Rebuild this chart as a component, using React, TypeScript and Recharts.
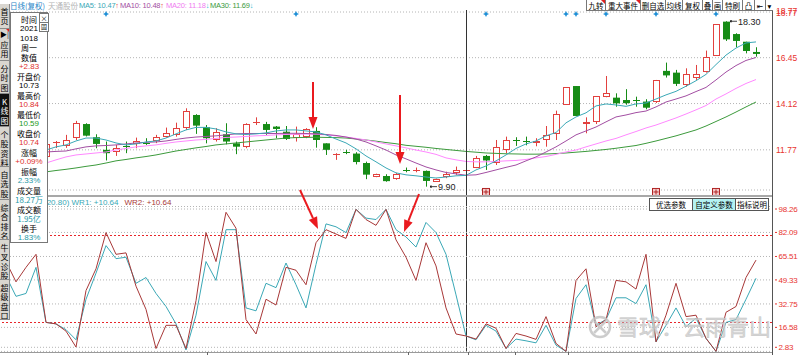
import React from "react";
import {
  ComposedChart,
  Bar,
  Line,
  XAxis,
  YAxis,
  CartesianGrid,
  ReferenceLine,
  ReferenceDot,
} from "recharts";

// 76 daily sessions
const opens = [
  11.45, 11.55, 11.5, 11.75, 11.41, 12.12, 11.98, 12.36, 13.08, 12.41,
  11.77, 11.68, 11.95, 12.05, 12.12, 12.22, 12.44, 12.53, 12.87, 13.54,
  12.92, 12.27, 12.56, 12.1, 11.93, 13.13, 13.08, 12.95, 12.69, 12.36,
  12.44, 12.73, 12.1, 11.52, 11.66, 11.58, 11.1, 10.41, 10.44, 10.29,
  10.77, 10.73, 10.7, 10.16, 10.41, 10.58, 10.73, 10.84, 11.46, 11.09,
  11.77, 12.25, 12.24, 12.15, 12.27, 12.58, 14.05, 15.01, 13.08, 13.2,
  14.44, 14.42, 14.3, 14.3, 14.22, 14.22, 15.78, 15.69, 15.06, 15.4,
  15.74, 16.55, 18.28, 17.65, 17.26, 16.74,
];
const highs = [
  11.62, 11.7, 11.66, 11.82, 12.1, 12.22, 12.53, 13.24, 13.12, 12.56,
  12.19, 12.02, 12.19, 12.39, 12.36, 12.53, 12.9, 13.15, 13.88, 13.58,
  13.03, 12.87, 13.12, 12.19, 13.12, 13.42, 13.19, 12.98, 12.98, 12.95,
  12.87, 12.92, 12.1, 11.6, 11.77, 11.65, 11.17, 10.56, 10.53, 10.6,
  10.87, 10.87, 10.72, 10.31, 10.66, 10.92, 10.84, 11.46, 11.51, 12.27,
  12.44, 12.41, 12.44, 12.36, 12.98, 13.76, 14.95, 15.01, 13.42, 14.5,
  15.52, 14.64, 14.85, 14.47, 14.34, 15.32, 16.2, 15.83, 15.91, 16.08,
  16.81, 18.16, 18.3, 17.69, 17.26, 16.98,
];
const lows = [
  11.38, 11.4, 11.42, 11.48, 11.38, 11.86, 11.87, 12.27, 12.45, 11.85,
  11.23, 11.46, 11.6, 11.85, 12.02, 12.11, 12.39, 12.44, 12.78, 12.58,
  12.1, 12.19, 12.05, 11.55, 11.85, 13.03, 12.53, 12.36, 12.27, 12.19,
  12.36, 11.88, 11.51, 11.26, 11.55, 11.03, 10.28, 10.38, 10.15, 10.25,
  10.63, 10.63, 9.9, 10.14, 10.33, 10.5, 10.59, 10.84, 10.75, 11.0,
  11.6, 11.97, 12.0, 11.95, 11.93, 12.27, 14.05, 13.49, 12.61, 13.08,
  14.44, 13.96, 14.06, 13.96, 13.83, 14.15, 15.44, 15.01, 14.98, 15.32,
  15.69, 16.55, 17.3, 16.98, 16.67, 16.5,
];
const closes = [
  11.55, 11.48, 11.6, 11.55, 12.07, 12.15, 12.27, 13.12, 12.49, 12.07,
  11.6, 11.85, 11.93, 12.24, 12.1, 12.41, 12.64, 12.9, 13.74, 13.0,
  12.36, 12.69, 12.19, 11.93, 13.08, 13.17, 12.78, 12.83, 12.32, 12.56,
  12.82, 12.27, 11.77, 11.57, 11.63, 11.15, 10.51, 10.53, 10.18, 10.56,
  10.75, 10.76, 10.19, 10.29, 10.53, 10.75, 10.74, 11.34, 11.23, 11.91,
  12.25, 12.19, 12.22, 12.22, 12.52, 13.59, 14.95, 13.49, 13.19, 14.5,
  14.67, 14.13, 14.14, 14.26, 13.91, 15.32, 15.55, 15.12, 15.61, 15.61,
  16.5, 18.16, 17.38, 17.3, 16.79, 16.64,
];

const ma5 = [
  11.51, 11.51, 11.56, 11.61, 11.76, 11.92, 12.02, 12.22, 12.37, 12.37,
  12.27, 12.12, 12.02, 12.07, 12.17, 12.22, 12.37, 12.58, 12.78, 12.91,
  12.91, 12.83, 12.68, 12.58, 12.55, 12.58, 12.63, 12.73, 12.78, 12.78,
  12.73, 12.68, 12.53, 12.32, 12.12, 11.82, 11.46, 11.16, 10.85, 10.6,
  10.5, 10.45, 10.39, 10.34, 10.39, 10.45, 10.47, 10.75, 10.95, 11.21,
  11.51, 11.84, 12.07, 12.22, 12.48, 12.65, 13.14, 13.44, 13.65, 14.0,
  14.1, 14.05, 13.98, 14.1, 14.15, 14.35, 14.56, 14.74, 15.0, 15.28,
  15.6, 16.1, 16.58, 16.94, 17.2, 17.25,
];
const ma10 = [
  11.61, 11.61, 11.61, 11.64, 11.66, 11.69, 11.71, 11.82, 11.92, 11.97,
  11.99, 12.02, 12.07, 12.12, 12.15, 12.17, 12.22, 12.3, 12.37, 12.42,
  12.45, 12.48, 12.53, 12.58, 12.6, 12.6, 12.6, 12.6, 12.61, 12.61,
  12.6, 12.58, 12.55, 12.5, 12.42, 12.32, 12.17, 11.97, 11.76, 11.51,
  11.31, 11.1, 10.9, 10.75, 10.62, 10.55, 10.48, 10.5, 10.62, 10.75,
  10.88, 11.0, 11.21, 11.41, 11.66, 11.92, 12.22, 12.53, 12.73, 12.93,
  13.19, 13.44, 13.54, 13.66, 13.74, 13.95, 14.2, 14.35, 14.51, 14.73,
  14.94, 15.32, 15.72, 16.05, 16.31, 16.46,
];
const ma20 = [
  10.75, 10.85, 10.95, 11.03, 11.1, 11.26, 11.41, 11.51, 11.56, 11.61,
  11.66, 11.76, 11.84, 11.92, 11.97, 12.02, 12.1, 12.17, 12.22, 12.27,
  12.3, 12.35, 12.4, 12.42, 12.45, 12.48, 12.5, 12.53, 12.55, 12.56,
  12.57, 12.56, 12.53, 12.48, 12.42, 12.35, 12.27, 12.17, 12.07, 11.97,
  11.87, 11.76, 11.66, 11.54, 11.36, 11.26, 11.18, 11.16, 11.16, 11.18,
  11.21, 11.23, 11.28, 11.36, 11.43, 11.54, 11.66, 11.76, 11.92, 12.07,
  12.22, 12.35, 12.53, 12.7, 12.88, 13.03, 13.21, 13.39, 13.59, 13.8,
  14.02, 14.35, 14.61, 14.89, 15.14, 15.34,
];
const ma30 = [
  10.5, 10.52, 10.55, 10.6, 10.65, 10.72, 10.78, 10.85, 10.93, 11.0,
  11.1, 11.21, 11.28, 11.36, 11.43, 11.51, 11.61, 11.71, 11.79, 11.87,
  11.94, 12.02, 12.07, 12.12, 12.17, 12.22, 12.27, 12.32, 12.37, 12.39,
  12.4, 12.41, 12.4, 12.39, 12.37, 12.32, 12.27, 12.21, 12.14, 12.08,
  12.0, 11.95, 11.9, 11.84, 11.79, 11.74, 11.69, 11.65, 11.61, 11.59,
  11.57, 11.56, 11.55, 11.55, 11.56, 11.58, 11.61, 11.65, 11.69, 11.74,
  11.79, 11.85, 11.92, 11.99, 12.1, 12.22, 12.35, 12.48, 12.63, 12.78,
  12.98, 13.21, 13.44, 13.69, 13.95, 14.2,
];

// Williams %R panel
const wr1 = [
  52, 38, 40, 58, 20, 19, 15, 8, 36, 54,
  73, 64, 65, 47, 51, 40, 31, 19, 1, 25,
  62, 49, 84, 84, 30, 28, 47, 44, 61, 46,
  30, 60, 88, 86, 82, 98, 92, 91, 98, 84,
  79, 72, 89, 82, 67, 39, 10.64, 8, 18, 14,
  2, 8.5, 7.3, 5.9, 18, 4.3, 0, 36.5, 46, 18,
  22, 37, 37, 33, 46, 6.6, 18, 30, 17, 23,
  9, 0, 20, 22, 36, 50.5,
];
const wr2 = [
  62, 48, 58, 67, 20, 19, 14, 3, 42, 57,
  82, 67, 68, 45, 29, 2, 18, 18, 2, 35,
  82, 62, 96, 85, 22, 12, 36, 32, 58, 56,
  46, 75, 84, 81, 78, 98, 91, 87, 98, 77,
  65, 49, 75, 59, 30, 12, 10.64, 8.5, 19, 16,
  2, 12.4, 10.6, 8.3, 24, 5.5, 0, 49, 57, 17,
  22, 49, 48, 43, 67, 6.6, 25, 47, 24, 25,
  9, 0, 27, 31, 51, 63,
];

const priceTicks = [11.77, 14.12, 16.45, 18.77];
const wrTicks = [2.83, 16.58, 32.75, 49.33, 65.51, 82.09, 98.26];
const eventDays = [10, 29, 48, 56, 57, 60, 65, 71];
const newsDays = [48, 65, 71];
const cursorDay = 46;

const infoRows = [
  ["时间", "#000"], ["2021", "#000"], ["1018", "#000"], ["周一", "#000"],
  ["数值", "#000"], ["+2.83", "#e0302c"], ["开盘价", "#000"], ["10.73", "#000"],
  ["最高价", "#000"], ["10.84", "#e0302c"], ["最低价", "#000"], ["10.59", "#1a9a1a"],
  ["收盘价", "#000"], ["10.74", "#e0302c"], ["涨幅", "#000"], ["+0.09%", "#e0302c"],
  ["振幅", "#000"], ["2.33%", "#2a9aa8"], ["成交量", "#000"], ["18.27万", "#2a9aa8"],
  ["成交额", "#000"], ["1.95亿", "#2a9aa8"], ["换手", "#000"], ["1.83%", "#2a9aa8"],
];

const tabs = [
  { t: "首页", top: 4, h: 25 },
  { t: "应用", top: 29, h: 32, icon: true },
  { t: "分时图", top: 61, h: 33 },
  { t: "K线图", top: 94, h: 33, dark: true },
  { t: "个股资料", top: 127, h: 40 },
  { t: "自选股", top: 167, h: 33 },
  { t: "综合排名", top: 200, h: 40 },
  { t: "牛叉诊股", top: 240, h: 40 },
  { t: "超级盘口", top: 280, h: 40 },
];

const tools = [
  { t: "九转", l: 586, w: 19, flag: true },
  { t: "重大事件", l: 605, w: 35, flag: true },
  { t: "删自选", l: 640, w: 25 },
  { t: "均线", l: 665, w: 17 },
  { t: "复权", l: 682, w: 20 },
  { t: "叠", l: 702, w: 10 },
  { t: "画", l: 712, w: 10 },
  { t: "特刷", l: 722, w: 20 },
  { t: "凸", l: 742, w: 12 },
  { t: "⇤", l: 754, w: 11 },
  { t: "▾", l: 765, w: 8 },
];

const data = opens.map((o, i) => ({
  i,
  open: o,
  high: highs[i],
  low: lows[i],
  close: closes[i],
  ma5: ma5[i],
  ma10: ma10[i],
  ma20: ma20[i],
  ma30: ma30[i],
  wr1: wr1[i],
  wr2: wr2[i],
}));

const CN = '"Noto Sans CJK SC", "DejaVu Sans", sans-serif';
const NUM = '"Liberation Sans", "DejaVu Sans", sans-serif';
const UP = "#e2413f";
const DOWN = "#168c16";
const TEAL = "#3aa8b6";
const PURPLE = "#a24ea2";
const PINK = "#ff88ff";
const MGREEN = "#3c9a3c";
const WR2C = "#a83838";
const AXISRED = "#e8332f";
const ARROW = "#ea1a1f";

const Candle = (props: any) => {
  const { x, y, width, height, payload } = props;
  if (x == null || !payload) return null;
  const { open, close, high, low } = payload;
  const span = high - low || 1;
  const toY = (v: number) => y + ((high - v) / span) * height;
  const cx = Math.floor(x + width / 2) + 0.5;
  const yH = toY(high);
  const yL = toY(low);
  const yT = toY(Math.max(open, close));
  const yB = toY(Math.min(open, close));
  const up = close >= open;
  if (yB - yT < 1.2) {
    const c = up ? UP : DOWN;
    const yy = Math.round(yT) + 0.5;
    return (
      <g>
        <line x1={cx} x2={cx} y1={yH} y2={yL} stroke={c} />
        <line x1={cx - 3.5} x2={cx + 3.5} y1={yy} y2={yy} stroke={c} />
      </g>
    );
  }
  if (up) {
    const t = Math.round(yT) + 0.5;
    const b = Math.round(yB) - 0.5;
    return (
      <g>
        <line x1={cx} x2={cx} y1={yH} y2={t} stroke={UP} />
        <line x1={cx} x2={cx} y1={b} y2={yL} stroke={UP} />
        <rect x={cx - 3} y={t} width={6} height={Math.max(1, b - t)} fill="#fff" stroke={UP} />
      </g>
    );
  }
  return (
    <g>
      <line x1={cx} x2={cx} y1={yH} y2={yL} stroke={DOWN} />
      <rect x={cx - 3.5} y={yT} width={7} height={yB - yT} fill={DOWN} />
    </g>
  );
};

const PriceTick = (props: any) => (
  <text x={props.x} y={props.y} dy={3.5} fill={AXISRED} fontSize={8.5} fontFamily={NUM}>
    {Number(props.payload.value).toFixed(2)}
  </text>
);

const WrTick = (props: any) => (
  <g>
    <line x1={props.x - 1} x2={props.x + 1} y1={props.y} y2={props.y} stroke={AXISRED} />
    <text x={props.x + 2.5} y={props.y} dy={3} fill={AXISRED} fontSize={8} letterSpacing={-0.2} fontFamily={NUM}>
      {Number(props.payload.value).toFixed(2)}
    </text>
  </g>
);

const EventStar = (p: any) => {
  const { cx, cy } = p;
  return (
    <polygon
      points={`${cx},${cy - 3} ${cx + 1},${cy - 1} ${cx + 3},${cy} ${cx + 1},${cy + 1} ${cx},${cy + 3} ${cx - 1},${cy + 1} ${cx - 3},${cy} ${cx - 1},${cy - 1}`}
      fill="#1e8fd6"
    />
  );
};

const NewsBox = (p: any) => (
  <g>
    <rect x={p.cx - 3.5} y={p.cy - 3.5} width={7} height={7} fill="#f4caca" stroke="#b02424" />
    <line x1={p.cx - 2.5} x2={p.cx + 2.5} y1={p.cy} y2={p.cy} stroke="#b02424" />
    <line x1={p.cx} x2={p.cx} y1={p.cy - 2.5} y2={p.cy + 2.5} stroke="#b02424" />
  </g>
);

const PeakTag = (p: any) => (
  <g>
    <rect x={p.cx + 4} y={p.cy - 1} width={2} height={2} fill="#222" />
    <line x1={p.cx + 5} x2={p.cx + 11} y1={p.cy} y2={p.cy} stroke="#444" />
    <text x={p.cx + 12} y={p.cy} dy={3.5} fontSize={9} fontFamily={NUM} fill="#222">
      {p.label}
    </text>
  </g>
);

const Arrow = ({ x1, y1, x2, y2 }: { x1: number; y1: number; x2: number; y2: number }) => {
  const a = Math.atan2(y2 - y1, x2 - x1);
  const bx = x2 - 12 * Math.cos(a);
  const by = y2 - 12 * Math.sin(a);
  const px = -Math.sin(a) * 4.5;
  const py = Math.cos(a) * 4.5;
  return (
    <g>
      <line x1={x1} y1={y1} x2={bx} y2={by} stroke={ARROW} strokeWidth={2} />
      <polygon points={`${x2},${y2} ${bx + px},${by + py} ${bx - px},${by - py}`} fill={ARROW} />
    </g>
  );
};

const abs = (l: number, t: number, extra: React.CSSProperties = {}): React.CSSProperties => ({
  position: "absolute",
  left: l,
  top: t,
  whiteSpace: "nowrap",
  ...extra,
});

export default function App() {
  return (
    <div style={{ position: "absolute", left: 0, top: 0, width: 800, height: 355, background: "#fff", overflow: "hidden", fontFamily: CN }}>
      {/* price panel */}
      <div style={abs(0, 0)}>
        <ComposedChart width={800} height={355} data={data} margin={{ top: 12, right: 0, bottom: 165, left: 1 }}>
          <CartesianGrid vertical={false} stroke="#b4b4b4" strokeDasharray="1 2" />
          <XAxis dataKey="i" hide scale="band" padding={{ left: 0, right: 11 }} />
          <YAxis
            orientation="right"
            domain={[9.73, 18.77]}
            ticks={priceTicks}
            width={28}
            axisLine={false}
            tickLine={false}
            tickSize={0}
            tickMargin={4}
            interval={0}
            allowDataOverflow
            tick={<PriceTick />}
          />
          <Bar dataKey={(d: any) => [d.low, d.high]} shape={<Candle />} isAnimationActive={false} />
          <Line dataKey="ma30" stroke={MGREEN} strokeWidth={1} dot={false} activeDot={false} isAnimationActive={false} />
          <Line dataKey="ma20" stroke={PINK} strokeWidth={1} dot={false} activeDot={false} isAnimationActive={false} />
          <Line dataKey="ma10" stroke={PURPLE} strokeWidth={1} dot={false} activeDot={false} isAnimationActive={false} />
          <Line dataKey="ma5" stroke={TEAL} strokeWidth={1} dot={false} activeDot={false} isAnimationActive={false} />
          <ReferenceLine
            x={cursorDay}
            shape={(p: any) => <line x1={Math.round(p.x1) + 0.5} x2={Math.round(p.x1) + 0.5} y1={10} y2={352} stroke="#333" />}
          />
          {eventDays.map((d) => (
            <ReferenceDot key={"e" + d} x={d} y={18.67} ifOverflow="visible" shape={<EventStar />} />
          ))}
          {newsDays.map((d) => (
            <ReferenceDot key={"n" + d} x={d} y={9.63} ifOverflow="visible" shape={<NewsBox />} />
          ))}
          <ReferenceDot x={72} y={highs[72]} ifOverflow="visible" shape={(p: any) => <PeakTag {...p} label={highs[72].toFixed(2)} />} />
          <ReferenceDot x={42} y={lows[42]} ifOverflow="visible" shape={(p: any) => <PeakTag {...p} label={lows[42].toFixed(2)} />} />
        </ComposedChart>
      </div>

      {/* WR panel */}
      <div style={abs(0, 0)}>
        <ComposedChart width={800} height={355} data={data} margin={{ top: 206.5, right: 0, bottom: 3.6, left: 1 }}>
          <CartesianGrid vertical={false} stroke="#b4b4b4" strokeDasharray="1 2" />
          <XAxis dataKey="i" hide scale="band" padding={{ left: 0, right: 11 }} />
          <YAxis
            orientation="right"
            domain={[0, 100]}
            ticks={wrTicks}
            width={28}
            axisLine={false}
            tickLine={false}
            tickSize={0}
            tickMargin={4}
            interval={0}
            tick={<WrTick />}
          />
          {[80, 20].map((v) => (
            <ReferenceLine
              key={v}
              y={v}
              shape={(p: any) => (
                <line x1={p.x1} x2={p.x2 - 14} y1={Math.round(p.y1) + 0.5} y2={Math.round(p.y1) + 0.5} stroke="#e8262a" strokeDasharray="2 2" />
              )}
            />
          ))}
          <Line dataKey="wr1" stroke={TEAL} strokeWidth={1} dot={false} activeDot={false} isAnimationActive={false} />
          <Line dataKey="wr2" stroke={WR2C} strokeWidth={1} dot={false} activeDot={false} isAnimationActive={false} />
        </ComposedChart>
      </div>

      {/* frame lines, arrows, watermark */}
      <svg width={800} height={355} style={abs(0, 0, { pointerEvents: "none" })}>
        <line x1={0} x2={772} y1={196} y2={196} stroke="#a8a8a8" strokeWidth={2} />
        <line x1={0} x2={772} y1={352.5} y2={352.5} stroke="#9a9a9a" />
        <line x1={772.5} x2={772.5} y1={0} y2={355} stroke="#555" />
        {[207, 408, 468, 515, 568].map((x) => (
          <line key={x} x1={x + 0.5} x2={x + 0.5} y1={352} y2={355} stroke="#666" />
        ))}
        <Arrow x1={313} y1={82} x2={313} y2={129} />
        <Arrow x1={400} y1={95} x2={400} y2={164} />
        <Arrow x1={300} y1={190} x2={318} y2={229} />
        <Arrow x1={419} y1={194} x2={404} y2={232} />
        <g opacity={0.85}>
          <circle cx={600} cy={327} r={10} fill="none" stroke="#c4c4c4" strokeWidth={2.5} />
          <path d="M594 321 L606 333 M606 321 L594 333" stroke="#c4c4c4" strokeWidth={2.5} />
          <text x={617} y={335} fontSize={22} fontFamily={CN} fill="#d0d0d0" stroke="#bdbdbd" strokeWidth={0.5}>
            雪球：云雨青山
          </text>
        </g>
      </svg>

      {/* header row */}
      <div style={abs(10, 0, { fontSize: 7.5, lineHeight: "11px" })}>
        <span style={abs(0, 0, { color: "#2a86c8" })}>日线(复权)</span>
        <span style={abs(38, 0, { color: "#b4b4b4" })}>天通股份</span>
        <span style={abs(69, 0, { color: TEAL, fontFamily: NUM, letterSpacing: -0.2 })}>MA5: 10.47<span style={{ color: "#e8332f" }}>↑</span></span>
        <span style={abs(110, 0, { color: PURPLE, fontFamily: NUM, letterSpacing: -0.2 })}>MA10: 10.48<span style={{ color: "#e8332f" }}>↑</span></span>
        <span style={abs(156, 0, { color: "#f07cf0", fontFamily: NUM, letterSpacing: -0.2 })}>MA20: 11.18<span style={{ color: "#25b8d0" }}>↓</span></span>
        <span style={abs(200, 0, { color: MGREEN, fontFamily: NUM, letterSpacing: -0.2 })}>MA30: 11.69<span style={{ color: "#25b8d0" }}>↓</span></span>
      </div>

      {/* toolbar */}
      {tools.map((b) => (
        <div
          key={b.t}
          style={abs(b.l, 0, {
            width: b.w,
            height: 11,
            boxSizing: "border-box",
            borderLeft: "1px solid #777",
            borderBottom: "1px solid #777",
            background: "#fff",
            fontSize: 7.5,
            lineHeight: "11px",
            textAlign: "center",
            overflow: "hidden",
          })}
        >
          {b.t}
          {b.flag && (
            <div style={abs(b.w - 5, 0, { width: 0, height: 0, borderTop: "4px solid #e02020", borderLeft: "4px solid transparent" })} />
          )}
        </div>
      ))}
      <div style={abs(776, 6, { fontSize: 8.5, lineHeight: "11px", fontFamily: NUM, color: AXISRED })}>18.77</div>

      {/* indicator buttons */}
      {[
        { t: "优选参数", l: 649, w: 44, bg: "#fff" },
        { t: "自定义参数", l: 692, w: 44, bg: "#b4f2f2" },
        { t: "指标说明", l: 735, w: 34, bg: "#fff" },
      ].map((b) => (
        <div
          key={b.t}
          style={abs(b.l, 198, {
            width: b.w,
            height: 13,
            boxSizing: "border-box",
            border: "1px solid #555",
            background: b.bg,
            fontSize: 7.5,
            lineHeight: "11px",
            textAlign: "center",
            overflow: "hidden",
          })}
        >
          {b.t}
        </div>
      ))}

      {/* WR header */}
      <div style={abs(44, 197, { fontSize: 8, lineHeight: "11px", fontFamily: NUM })}>
        <span style={{ color: TEAL }}>(20.80) WR1: +10.64</span>
        <span style={{ color: WR2C, marginLeft: 6 }}>WR2: +10.64</span>
      </div>

      {/* side tabs */}
      <div style={abs(0, 0, { width: 10, height: 322, background: "#fff" })}>
        {tabs.map((tb) => (
          <div
            key={tb.t}
            style={abs(0, tb.top, {
              width: 10,
              height: tb.h,
              boxSizing: "border-box",
              borderBottom: "1px solid #8a8a8a",
              borderRight: "1px solid #8a8a8a",
              background: tb.dark ? "#111" : "#d9d6d0",
              color: tb.dark ? "#fff" : "#000",
              overflow: "hidden",
            })}
          >
            <div style={abs(0, tb.icon ? 11 : 3, { width: 9, fontSize: 8, lineHeight: "9.3px", textAlign: "center", whiteSpace: "normal", wordBreak: "break-all" })}>
              {tb.t}
            </div>
            {tb.icon && (
              <>
                <div style={abs(0, 1, { fontSize: 7, lineHeight: "8px" })}>▶|</div>
                <div style={abs(6, 0, { width: 0, height: 0, borderTop: "4px solid #e02020", borderLeft: "4px solid transparent" })} />
              </>
            )}
          </div>
        ))}
      </div>

      {/* info box */}
      <div style={abs(10, 12, { width: 38, height: 231, boxSizing: "border-box", border: "1px solid #777", background: "#fff" })}>
        {infoRows.map((r, k) => (
          <div
            key={k}
            style={abs(0, 1.5 + k * 9.52, {
              width: 36,
              textAlign: "center",
              fontSize: 8,
              lineHeight: "9px",
              color: r[1],
              fontFamily: /^[+\d.%]+$/.test(r[0]) ? NUM : CN,
            })}
          >
            {r[0]}
          </div>
        ))}
        <div style={abs(28, 0, { width: 8, height: 8, border: "1px solid #777", fontSize: 7, lineHeight: "8px", textAlign: "center", background: "#fff" })}>×</div>
        <div style={abs(28, 9, { width: 8, height: 8, border: "1px solid #777", fontSize: 6, lineHeight: "8px", textAlign: "center", background: "#fff" })}>固</div>
      </div>
    </div>
  );
}
